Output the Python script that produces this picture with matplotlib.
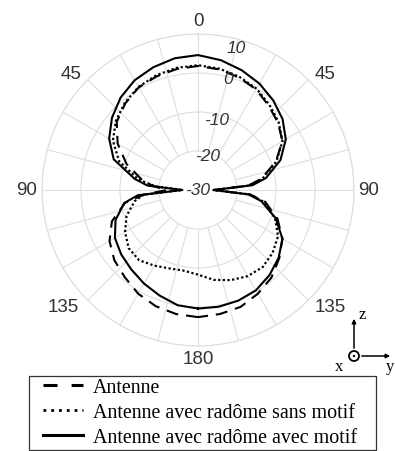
import numpy as np
import matplotlib
matplotlib.use('Agg')
import matplotlib.pyplot as plt
from matplotlib.lines import Line2D
from matplotlib.patches import Circle, FancyArrowPatch, Rectangle

# ---------------- data (dB vs angle in degrees, 0 = top, positive = right) ----
angles_deg = [-180, -170, -160, -150, -140, -130, -120, -110, -100, -95, -90,
              -85, -80, -70, -60, -50, -40, -30, -20, -10, 0,
              10, 20, 30, 40, 50, 60, 70, 80, 85, 90,
              95, 100, 110, 120, 130, 140, 150, 160, 170, 180]

antenne = [2.6, 2.3, 1.7, 0.7, -0.8, -2.0, -3.8, -6.5, -11.0, -16.0, -22.0,
           -18.5, -15.5, -10.5, -6.2, -2.8, -1.0, 0.4, 1.0, 1.5, 1.8,
           1.4, 0.7, -0.2, -1.8, -3.2, -5.0, -8.8, -13.5, -17.0, -26.0,
           -16.5, -12.5, -8.3, -5.0, -2.8, -0.7, 0.7, 1.9, 2.3, 2.6]

sans_motif = [-8.3, -9.0, -8.6, -7.6, -6.5, -6.8, -8.4, -10.5, -13.5, -16.0, -26.0,
              -19.0, -14.5, -8.5, -4.8, -2.5, -0.8, 0.5, 1.3, 1.8, 2.0,
              1.6, 0.9, 0.0, -1.5, -3.0, -5.0, -8.6, -13.2, -17.0, -26.0,
              -16.5, -13.0, -9.0, -6.3, -5.0, -4.2, -4.5, -5.4, -6.6, -8.3]

avec_motif = [0.4, 0.0, -1.2, -2.3, -3.4, -4.3, -5.4, -7.5, -10.8, -14.5, -26.0,
              -17.0, -13.5, -7.0, -3.7, -1.2, 0.9, 2.5, 3.5, 4.3, 4.6,
              3.8, 2.7, 1.5, 0.0, -1.7, -4.0, -7.5, -12.3, -16.0, -26.0,
              -17.0, -13.5, -8.8, -5.0, -3.0, -1.5, -0.3, 0.2, 0.4, 0.4]

legend_labels = ["Antenne",
                 "Antenne avec radôme sans motif",
                 "Antenne avec radôme avec motif"]

theta_ticks_deg = [0, 45, 90, 135, 180, 225, 270, 315]
theta_tick_labels = ["0", "45", "90", "135", "180", "135", "90", "45"]
r_ticks = [-30, -20, -10, 0, 10]
r_tick_labels = ["-30", "-20", "-10", "0", "10"]

# ---------------- figure ----------------
W, H = 395, 452
fig = plt.figure(figsize=(W / 100, H / 100), dpi=100)
fig.patch.set_facecolor('white')

cx, cy, R = 198, 191, 156
ax = fig.add_axes([(cx - R) / W, 1 - (cy + R) / H, 2 * R / W, 2 * R / H],
                  projection='polar')
ax.set_theta_zero_location('N')
ax.set_theta_direction(-1)
ax.set_ylim(-30, 10)
px_per_db = R / 40.0

grid_color = '#dedede'
# rings
ax.set_yticks([-20, -10, 0, 10])
ax.set_yticklabels([])
ax.yaxis.grid(True, color=grid_color, lw=0.8)
ax.xaxis.grid(False)
ax.spines['polar'].set_color(grid_color)
ax.spines['polar'].set_linewidth(0.8)

# spokes every 15 deg from the -20 ring outwards
for a in range(0, 360, 15):
    t = np.deg2rad(a)
    ax.plot([t, t], [-20, 10], color=grid_color, lw=0.8, zorder=1)

# angular tick labels (placed just outside the outer ring)
ax.set_xticks(np.deg2rad(theta_ticks_deg))
ax.set_xticklabels([])
label_px = {0: (0, 169), 45: (47.5, 172), 90: (90, 171), 135: (131.3, 176),
            180: (180, 169), 225: (229, 178), 270: (270, 171), 315: (312.5, 172)}
for a, lab in zip(theta_ticks_deg, theta_tick_labels):
    ang, rpx = label_px[a]
    ax.text(np.deg2rad(ang), -30 + rpx / px_per_db, lab, fontsize=13.5,
            color='#333333', family='Liberation Sans', ha='center', va='center',
            clip_on=False)

th = np.deg2rad(angles_deg)
ax.plot(th, antenne, color='black', lw=1.5, linestyle=(0, (5.8, 3.8)), zorder=3)
ax.plot(th, sans_motif, color='black', lw=1.6, linestyle=(0, (1.0, 1.1)), zorder=3)
ax.plot(th, avec_motif, color='black', lw=1.5, linestyle='-', zorder=3)

# radial labels
r_label_pos = {-30: -30, -20: -20.8, -10: -11.3, 0: -0.5, 10: 7.95}
for rv, lab in zip(r_ticks, r_tick_labels):
    kw = {}
    if rv == -30:
        kw['bbox'] = dict(facecolor='white', edgecolor='none', pad=0.5)
    ax.text(np.deg2rad(15) if rv != -30 else 0, r_label_pos[rv], lab,
            fontsize=12.5, style='italic', color='#333333', ha='center',
            va='center', family='Liberation Sans', zorder=5, **kw)

# ---------------- legend ----------------
handles = [Line2D([], [], color='black', lw=2.2, linestyle=(0, (4.6, 4.6))),
           Line2D([], [], color='black', lw=2.0, linestyle=(0, (1.0, 1.8))),
           Line2D([], [], color='black', lw=2.2, linestyle='-')]
leg = fig.legend(handles, legend_labels, loc='upper left',
                 bbox_to_anchor=(43 / W, 1 - 379 / H),
                 frameon=False,
                 prop={'family': 'Liberation Serif', 'size': 14.4},
                 handlelength=2.0, handletextpad=0.5, labelspacing=0.3,
                 borderpad=0.0, borderaxespad=0)
fig.add_artist(Rectangle((29, H - 451), 347, 74, transform=None, fill=False,
                         ec='#333333', lw=0.9))

# ---------------- coordinate icon ----------------
def fx(x):
    return x / W

def fy(y):
    return 1 - y / H

ox, oy = 354, 357
fig.add_artist(FancyArrowPatch((fx(ox), fy(oy - 5)), (fx(ox), fy(317)),
                               transform=fig.transFigure, arrowstyle='-|>',
                               mutation_scale=6, color='black', lw=1.1))
fig.add_artist(FancyArrowPatch((fx(ox + 5), fy(oy)), (fx(393), fy(oy)),
                               transform=fig.transFigure, arrowstyle='-|>',
                               mutation_scale=6, color='black', lw=1.1))
circ = Circle((ox, H - oy), 5, transform=None, fill=False, ec='black', lw=1.3)
fig.add_artist(circ)
dot = Circle((ox, H - oy), 1.2, transform=None, fc='black', ec='none')
fig.add_artist(dot)
fig.text(fx(362), fy(315), 'z', fontsize=12, family='Liberation Serif',
         ha='center', va='center')
fig.text(fx(339), fy(367), 'x', fontsize=12, family='Liberation Serif',
         ha='center', va='center')
fig.text(fx(390), fy(367), 'y', fontsize=12, family='Liberation Serif',
         ha='center', va='center')

fig.savefig('out.png', dpi=100)
